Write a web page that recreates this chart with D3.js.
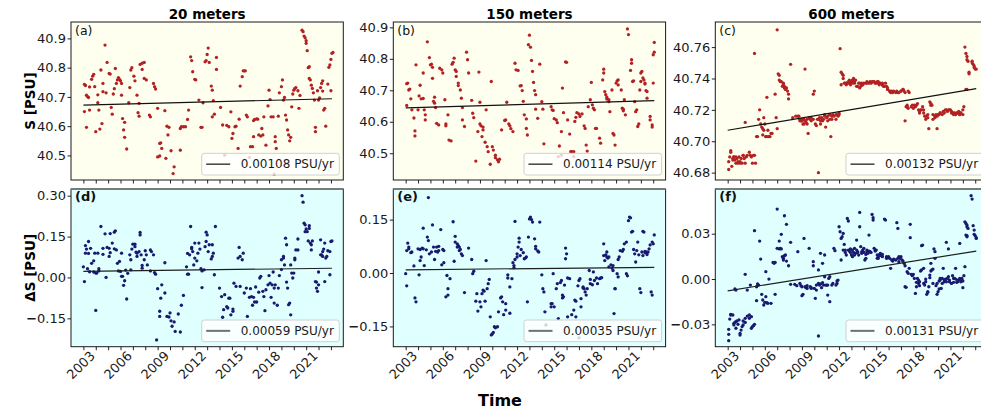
<!DOCTYPE html>
<html><head><meta charset="utf-8">
<script src="https://cdn.jsdelivr.net/npm/d3@7"></script>
<style>
body{margin:0;background:#fff}
svg{display:block}
text{font-family:"DejaVu Sans",sans-serif}
</style>
</head><body>
<svg id="c" width="981" height="414"></svg>
<script>
// x of each point: months since Jan 2002
const startYear = 2002;
const depthTitles = ["20 meters", "150 meters", "600 meters"];
const panelLetters = ["(a)", "(b)", "(c)", "(d)", "(e)", "(f)"];
const rowLabels = ["S [PSU]", "\u0394S [PSU]"];
const xLabel = "Time";
const xLimits = [2001.0, 2023.0];
const xTickYears = [2002,2003,2004,2005,2006,2007,2008,2009,2010,2011,2012,2013,2014,2015,2016,2017,2018,2019,2020,2021,2022];
const xLabelYears = [2003,2006,2009,2012,2015,2018,2021];

const sal20 = [[1,40.743],[2,40.739],[3,40.706],[4,40.701],[5,40.698],[1,40.650],[3,40.596],[6,40.734],[8,40.760],[9,40.771],[10,40.777],[6,40.655],[11,40.735],[12,40.581],[14,40.680],[14,40.707],[15,40.655],[16,40.590],[18,40.609],[17,40.792],[19,40.746],[19,40.718],[21,40.877],[22,40.714],[23,40.818],[25,40.780],[26,40.778],[27,40.664],[28,40.641],[29,40.710],[30,40.728],[31,40.797],[32,40.746],[33,40.758],[34,40.766],[35,40.760],[36,40.755],[37,40.746],[37,40.706],[38,40.626],[39,40.587],[40,40.562],[40,40.613],[42,40.522],[44,40.680],[45,40.732],[46,40.792],[47,40.800],[49,40.771],[50,40.755],[52,40.706],[53,40.646],[54,40.634],[54,40.678],[55,40.811],[57,40.815],[59,40.818],[57,40.794],[59,40.763],[61,40.758],[64,40.638],[65,40.632],[68,40.746],[69,40.735],[70,40.727],[72,40.661],[74,40.541],[75,40.543],[76,40.524],[72,40.495],[74,40.498],[79,40.653],[80,40.490],[81,40.600],[82,40.570],[83,40.596],[85,40.516],[88,40.461],[87,40.438],[94,40.518],[94,40.592],[95,40.598],[97,40.598],[99,40.598],[101,40.623],[102,40.655],[104,40.837],[105,40.824],[106,40.786],[108,40.760],[109,40.758],[112,40.689],[114,40.596],[115,40.596],[116,40.680],[118,40.820],[119,40.824],[120,40.845],[121,40.867],[122,40.818],[124,40.737],[125,40.723],[126,40.687],[125,40.632],[127,40.641],[129,40.794],[129,40.835],[133,40.664],[135,40.604],[137,40.501],[139,40.603],[141,40.598],[143,40.649],[144,40.558],[145,40.575],[147,40.598],[148,40.600],[150,40.524],[151,40.624],[152,40.737],[154,40.769],[155,40.789],[156,40.789],[157,40.789],[158,40.638],[159,40.632],[161,40.493],[162,40.530],[164,40.530],[165,40.564],[165,40.619],[166,40.623],[168,40.625],[169,40.624],[170,40.570],[172,40.566],[173,40.592],[174,40.570],[175,40.632],[177,40.535],[179,40.669],[180,40.723],[181,40.691],[182,40.632],[184,40.632],[185,40.436],[186,40.564],[186,40.547],[187,40.524],[189,40.634],[190,40.714],[192,40.735],[193,40.758],[194,40.689],[195,40.698],[196,40.638],[197,40.621],[198,40.587],[199,40.570],[200,40.550],[201,40.562],[202,40.666],[203,40.710],[204,40.723],[205,40.729],[206,40.732],[208,40.721],[209,40.661],[210,40.705],[212,40.928],[213,40.923],[214,40.908],[215,40.902],[216,40.892],[216,40.883],[217,40.858],[218,40.800],[219,40.803],[219,40.763],[220,40.758],[221,40.740],[222,40.729],[223,40.714],[224,40.689],[225,40.581],[225,40.596],[227,40.721],[228,40.689],[229,40.697],[230,40.732],[231,40.746],[232,40.755],[232,40.720],[233,40.655],[234,40.661],[235,40.600],[237,40.744],[238,40.801],[239,40.809],[240,40.828],[241,40.849],[242,40.852],[240,40.721]];

const sal150 = [[1,40.721],[2,40.723],[3,40.701],[4,40.704],[5,40.673],[1,40.652],[6,40.638],[8,40.612],[9,40.571],[9,40.555],[10,40.781],[12,40.638],[13,40.682],[14,40.716],[15,40.673],[17,40.755],[17,40.674],[18,40.638],[19,40.622],[19,40.606],[21,40.854],[23,40.804],[24,40.781],[25,40.783],[26,40.773],[26,40.738],[27,40.665],[28,40.678],[28,40.659],[29,40.645],[30,40.595],[32,40.590],[33,40.770],[35,40.765],[36,40.755],[38,40.670],[39,40.593],[39,40.587],[41,40.622],[42,40.542],[44,40.539],[45,40.783],[46,40.789],[47,40.802],[48,40.765],[49,40.760],[49,40.744],[51,40.723],[51,40.715],[53,40.701],[54,40.675],[55,40.645],[55,40.606],[57,40.585],[59,40.821],[60,40.797],[61,40.755],[64,40.668],[65,40.627],[66,40.613],[68,40.475],[70,40.569],[71,40.758],[72,40.662],[72,40.593],[73,40.587],[74,40.553],[75,40.583],[75,40.574],[77,40.535],[78,40.638],[79,40.521],[80,40.505],[82,40.465],[83,40.728],[84,40.521],[85,40.510],[87,40.494],[87,40.486],[89,40.479],[90,40.473],[91,40.481],[93,40.574],[96,40.604],[97,40.606],[98,40.662],[100,40.593],[101,40.587],[102,40.578],[104,40.569],[106,40.786],[107,40.765],[109,40.763],[111,40.714],[112,40.715],[113,40.699],[114,40.665],[115,40.622],[117,40.609],[117,40.579],[118,40.558],[119,40.845],[120,40.875],[121,40.837],[122,40.795],[123,40.760],[124,40.725],[125,40.699],[126,40.686],[126,40.640],[128,40.611],[130,40.783],[132,40.664],[133,40.640],[134,40.530],[141,40.648],[142,40.638],[143,40.636],[144,40.610],[146,40.606],[147,40.597],[148,40.489],[149,40.523],[151,40.569],[151,40.494],[152,40.707],[153,40.629],[155,40.790],[156,40.789],[157,40.606],[159,40.561],[160,40.505],[161,40.505],[163,40.505],[163,40.489],[164,40.601],[165,40.614],[166,40.629],[168,40.625],[169,40.617],[171,40.625],[173,40.587],[174,40.579],[175,40.526],[176,40.507],[177,40.648],[179,40.670],[180,40.725],[181,40.654],[182,40.643],[183,40.638],[184,40.579],[185,40.579],[188,40.548],[189,40.532],[191,40.733],[192,40.755],[192,40.767],[193,40.696],[194,40.686],[195,40.678],[195,40.672],[197,40.670],[197,40.664],[198,40.632],[200,40.701],[201,40.563],[202,40.558],[203,40.526],[204,40.723],[205,40.730],[206,40.733],[206,40.717],[209,40.701],[210,40.643],[211,40.640],[211,40.635],[213,40.622],[212,40.670],[215,40.895],[216,40.877],[218,40.763],[219,40.797],[219,40.786],[220,40.728],[221,40.730],[222,40.664],[223,40.632],[224,40.638],[225,40.585],[226,40.593],[227,40.701],[228,40.728],[228,40.755],[229,40.760],[230,40.739],[231,40.733],[232,40.720],[232,40.723],[233,40.699],[234,40.696],[234,40.675],[237,40.606],[237,40.617],[239,40.590],[239,40.583],[240,40.813],[241,40.821],[241,40.852],[240,40.723]];

const sal600 = [[1,40.687],[1,40.682],[2,40.690],[3,40.694],[3,40.693],[4,40.684],[5,40.689],[5,40.688],[6,40.690],[6,40.690],[7,40.688],[8,40.690],[8,40.686],[9,40.689],[10,40.686],[10,40.687],[11,40.690],[12,40.686],[12,40.687],[13,40.689],[14,40.686],[15,40.691],[15,40.691],[16,40.689],[17,40.712],[17,40.686],[18,40.690],[19,40.691],[21,40.693],[22,40.691],[23,40.690],[24,40.686],[25,40.691],[26,40.756],[26,40.691],[27,40.686],[28,40.703],[29,40.703],[30,40.714],[31,40.720],[32,40.711],[33,40.709],[34,40.708],[34,40.704],[35,40.707],[35,40.715],[36,40.711],[37,40.703],[37,40.703],[38,40.728],[39,40.703],[39,40.707],[40,40.703],[41,40.703],[42,40.705],[43,40.705],[46,40.730],[47,40.715],[48,40.708],[48,40.771],[49,40.743],[50,40.742],[50,40.739],[51,40.738],[52,40.738],[53,40.735],[54,40.736],[54,40.737],[55,40.734],[55,40.735],[56,40.733],[57,40.734],[58,40.732],[59,40.730],[59,40.727],[61,40.749],[63,40.715],[66,40.716],[68,40.716],[69,40.716],[70,40.714],[70,40.713],[71,40.713],[72,40.713],[72,40.714],[73,40.711],[74,40.714],[74,40.711],[75,40.713],[75,40.746],[76,40.712],[77,40.711],[77,40.714],[78,40.705],[79,40.715],[80,40.714],[81,40.713],[81,40.715],[83,40.714],[83,40.730],[84,40.732],[85,40.711],[86,40.710],[87,40.714],[88,40.680],[88,40.714],[89,40.715],[90,40.711],[90,40.713],[91,40.715],[92,40.714],[92,40.713],[93,40.714],[94,40.716],[94,40.717],[95,40.709],[96,40.715],[97,40.713],[97,40.716],[99,40.714],[99,40.717],[100,40.703],[101,40.714],[101,40.716],[102,40.717],[103,40.716],[105,40.717],[105,40.714],[106,40.717],[107,40.716],[108,40.718],[108,40.717],[109,40.759],[110,40.736],[110,40.744],[111,40.743],[112,40.742],[112,40.740],[113,40.737],[114,40.737],[115,40.736],[115,40.737],[116,40.737],[117,40.738],[117,40.737],[118,40.739],[119,40.736],[119,40.737],[120,40.738],[121,40.739],[121,40.737],[122,40.740],[123,40.738],[123,40.737],[124,40.739],[125,40.735],[126,40.735],[127,40.737],[128,40.737],[128,40.734],[129,40.735],[130,40.736],[130,40.737],[131,40.736],[132,40.737],[134,40.737],[135,40.737],[135,40.738],[137,40.737],[138,40.738],[139,40.737],[140,40.738],[141,40.738],[142,40.738],[143,40.737],[144,40.737],[145,40.738],[146,40.738],[146,40.737],[147,40.736],[148,40.737],[150,40.737],[150,40.736],[151,40.735],[152,40.735],[153,40.737],[154,40.735],[155,40.733],[155,40.734],[157,40.732],[157,40.732],[158,40.731],[159,40.732],[160,40.731],[161,40.732],[163,40.731],[164,40.732],[165,40.731],[166,40.731],[168,40.732],[168,40.732],[170,40.733],[170,40.733],[171,40.732],[172,40.731],[172,40.713],[173,40.722],[174,40.723],[174,40.722],[175,40.721],[175,40.732],[176,40.731],[178,40.722],[179,40.723],[180,40.721],[181,40.723],[182,40.722],[183,40.723],[184,40.724],[185,40.720],[186,40.719],[186,40.718],[187,40.720],[188,40.720],[189,40.722],[190,40.718],[190,40.720],[191,40.716],[192,40.714],[192,40.716],[194,40.717],[194,40.715],[195,40.708],[196,40.725],[197,40.724],[197,40.723],[198,40.723],[199,40.717],[199,40.714],[201,40.716],[201,40.715],[202,40.717],[203,40.716],[203,40.708],[204,40.717],[205,40.717],[206,40.718],[206,40.718],[208,40.717],[209,40.719],[210,40.718],[211,40.720],[212,40.720],[213,40.719],[214,40.720],[215,40.720],[216,40.720],[217,40.718],[217,40.719],[219,40.717],[219,40.718],[220,40.718],[221,40.717],[222,40.718],[223,40.718],[224,40.719],[225,40.717],[225,40.717],[226,40.718],[226,40.718],[228,40.717],[228,40.720],[229,40.722],[230,40.760],[231,40.756],[232,40.754],[232,40.752],[233,40.751],[234,40.743],[234,40.744],[231,40.733],[232,40.733],[237,40.751],[237,40.750],[238,40.749],[239,40.748],[239,40.747],[240,40.746],[241,40.746]];

const dS20 = [[0,0.039],[1,-0.015],[2,0.089],[2,0.117],[3,0.104],[4,0.032],[5,0.132],[5,0.088],[6,0.021],[7,0.107],[8,0.052],[10,0.061],[10,0.020],[11,0.089],[12,0.016],[12,-0.121],[13,0.016],[14,0.089],[15,0.032],[15,0.024],[17,0.187],[19,0.107],[19,0.085],[21,0.160],[22,0.000],[23,0.110],[25,0.077],[25,0.107],[26,0.161],[26,0.091],[28,0.126],[30,0.105],[30,0.166],[31,0.171],[32,0.101],[33,0.052],[34,0.024],[35,0.059],[36,0.022],[37,0.089],[37,0.004],[38,0.004],[39,-0.029],[40,-0.012],[41,0.027],[42,-0.079],[43,0.015],[45,0.083],[46,0.065],[46,0.028],[47,0.104],[48,0.122],[50,0.113],[50,0.122],[51,0.093],[52,0.089],[52,0.077],[54,0.095],[55,0.165],[55,0.156],[56,0.083],[57,0.034],[57,0.044],[59,0.065],[60,0.098],[61,0.083],[62,0.046],[65,0.024],[65,0.101],[66,0.095],[68,0.083],[69,0.018],[70,0.012],[72,-0.041],[74,-0.143],[74,-0.124],[75,-0.076],[76,-0.027],[79,0.054],[79,-0.057],[81,-0.143],[83,-0.145],[84,-0.130],[85,-0.159],[86,-0.179],[88,-0.163],[89,-0.198],[71,-0.229],[92,-0.134],[94,-0.200],[95,-0.102],[97,-0.066],[100,0.039],[101,0.012],[101,0.088],[102,0.012],[103,0.083],[104,0.187],[105,0.105],[105,0.110],[106,0.095],[107,0.046],[108,0.071],[108,0.126],[110,0.061],[111,0.089],[112,0.126],[113,0.104],[114,0.032],[115,0.024],[115,-0.037],[117,0.028],[118,0.113],[119,0.132],[119,0.166],[120,0.156],[121,0.095],[122,0.120],[124,0.068],[125,0.120],[125,0.077],[126,0.089],[127,0.010],[128,0.187],[132,-0.039],[134,-0.070],[135,-0.146],[136,-0.118],[137,-0.063],[139,-0.107],[140,-0.112],[141,-0.076],[142,-0.076],[143,-0.137],[145,-0.124],[145,-0.116],[146,-0.021],[148,-0.033],[150,0.071],[151,0.110],[152,-0.033],[152,0.077],[154,0.065],[155,0.089],[156,-0.057],[158,-0.039],[159,-0.143],[161,-0.073],[162,-0.041],[163,-0.070],[164,-0.102],[165,-0.073],[166,-0.090],[167,-0.035],[168,-0.090],[170,-0.054],[171,-0.002],[172,0.004],[174,-0.051],[175,-0.070],[176,-0.122],[177,-0.045],[179,-0.027],[180,0.007],[181,-0.021],[182,-0.073],[183,-0.027],[184,0.020],[185,-0.094],[185,-0.039],[186,-0.027],[188,-0.102],[189,-0.039],[190,0.007],[192,0.029],[192,0.065],[194,0.071],[194,0.077],[195,0.046],[196,0.144],[197,0.120],[197,-0.017],[198,-0.039],[199,-0.100],[200,-0.094],[201,-0.137],[201,0.046],[202,0.016],[203,-0.002],[204,0.016],[205,0.071],[205,0.065],[206,0.101],[208,0.101],[208,0.141],[212,0.300],[213,0.276],[214,0.199],[215,0.193],[215,0.168],[216,0.178],[217,0.168],[218,0.134],[219,0.190],[219,0.180],[220,0.126],[221,0.101],[221,0.120],[222,0.134],[225,-0.015],[226,-0.017],[226,-0.039],[227,-0.051],[228,-0.027],[228,0.020],[230,0.083],[230,0.138],[231,0.083],[232,0.077],[232,0.095],[233,0.104],[234,0.126],[234,-0.015],[235,0.071],[236,0.077],[237,0.098],[239,0.095],[240,0.132],[241,0.134],[239,0.010]];

const dS150 = [[0,-0.002],[1,-0.036],[1,0.063],[2,0.084],[3,0.073],[3,0.068],[5,0.057],[6,0.059],[8,0.020],[9,-0.070],[10,-0.081],[12,0.068],[13,-0.005],[14,0.035],[14,0.066],[15,0.045],[16,0.070],[17,0.126],[17,0.068],[18,0.021],[20,0.065],[21,0.101],[22,0.091],[22,0.212],[23,0.054],[25,0.059],[26,0.135],[27,0.073],[28,0.038],[29,0.061],[30,0.073],[31,0.059],[32,0.075],[32,0.063],[34,0.122],[35,0.023],[36,0.066],[37,0.029],[37,0.063],[39,-0.067],[40,-0.007],[41,-0.044],[41,-0.062],[43,-0.016],[46,0.144],[47,0.033],[48,0.087],[48,0.103],[50,0.082],[50,0.073],[51,0.077],[52,0.063],[52,0.073],[53,0.066],[54,0.054],[55,0.049],[57,-0.055],[61,0.070],[64,0.038],[65,-0.002],[66,0.005],[68,-0.079],[69,-0.058],[70,-0.107],[72,-0.081],[73,-0.095],[74,-0.058],[75,-0.048],[76,-0.051],[77,-0.079],[78,0.035],[79,-0.044],[80,-0.030],[81,-0.018],[82,-0.123],[83,-0.174],[84,-0.171],[85,-0.167],[86,-0.151],[87,-0.154],[89,-0.151],[90,-0.109],[92,-0.070],[93,-0.067],[94,-0.081],[95,-0.117],[97,-0.086],[97,-0.104],[99,-0.005],[99,-0.014],[101,-0.039],[101,-0.113],[103,-0.016],[104,0.029],[105,0.021],[105,0.015],[106,0.038],[106,0.145],[108,0.045],[108,0.054],[109,0.073],[110,0.087],[110,0.098],[111,0.049],[112,0.066],[114,0.057],[115,0.040],[116,0.042],[117,0.045],[118,-0.081],[119,0.101],[120,0.152],[121,0.157],[122,0.150],[123,0.143],[125,0.096],[126,0.075],[126,0.068],[128,0.062],[129,0.059],[130,0.143],[132,-0.005],[133,-0.044],[134,-0.053],[135,-0.109],[136,-0.146],[141,-0.086],[141,-0.095],[142,-0.086],[143,-0.002],[144,-0.095],[146,-0.044],[147,-0.030],[148,-0.128],[150,-0.027],[151,-0.021],[152,-0.062],[152,-0.070],[153,-0.067],[154,-0.034],[155,0.070],[155,0.040],[156,0.054],[157,-0.123],[157,-0.014],[159,-0.016],[161,-0.117],[163,-0.104],[164,-0.076],[165,-0.123],[165,-0.079],[167,-0.036],[168,-0.021],[168,-0.182],[169,-0.016],[170,-0.095],[170,-0.072],[172,-0.042],[172,-0.039],[173,-0.044],[174,-0.053],[175,-0.062],[176,-0.044],[178,0.007],[179,-0.030],[179,-0.018],[181,-0.033],[182,0.003],[183,-0.021],[185,-0.014],[186,-0.030],[188,-0.016],[189,-0.014],[190,-0.013],[192,0.082],[192,0.049],[193,0.035],[194,0.051],[195,0.059],[195,0.045],[196,0.042],[197,0.045],[197,0.017],[199,0.023],[200,0.014],[201,0.007],[201,0.021],[202,-0.114],[203,-0.044],[203,-0.044],[205,-0.002],[206,-0.011],[206,0.038],[207,0.045],[208,0.063],[210,0.061],[211,0.066],[212,0.082],[214,0.087],[214,-0.002],[215,-0.008],[216,0.147],[217,0.157],[218,0.155],[219,0.115],[220,0.117],[221,0.066],[222,0.054],[223,0.031],[224,0.063],[225,0.087],[226,0.051],[227,-0.044],[228,-0.055],[229,0.059],[230,0.049],[230,0.117],[231,0.115],[232,0.061],[232,0.057],[233,0.059],[234,0.052],[235,0.059],[236,0.068],[237,0.079],[238,-0.053],[239,-0.062],[239,0.087],[240,0.082],[241,0.107]];

const dS600 = [[1,-0.0366],[1,-0.0408],[1,-0.0333],[2,-0.0265],[3,-0.0238],[3,-0.0234],[5,-0.0238],[6,-0.0293],[6,-0.0304],[7,-0.0287],[7,-0.0066],[8,-0.0326],[8,-0.0073],[8,-0.0282],[9,-0.0278],[10,-0.0300],[11,-0.0271],[12,-0.0371],[12,-0.0360],[13,-0.0338],[14,-0.0315],[15,-0.0278],[15,-0.0304],[17,-0.0260],[17,0.0031],[17,-0.0287],[19,-0.0245],[19,-0.0073],[21,-0.0238],[21,-0.0260],[22,-0.0040],[23,-0.0249],[23,-0.0326],[24,-0.0315],[25,-0.0309],[26,0.0320],[26,-0.0300],[28,-0.0143],[28,-0.0051],[29,-0.0033],[30,-0.0040],[31,0.0251],[32,0.0132],[33,-0.0101],[34,-0.0139],[35,-0.0172],[36,-0.0154],[37,-0.0117],[37,0.0049],[38,-0.0157],[39,-0.0161],[40,0.0000],[42,-0.0161],[44,0.0110],[45,0.0104],[46,0.0110],[46,-0.0101],[48,0.0463],[48,0.0203],[50,0.0251],[50,0.0199],[51,0.0203],[52,0.0296],[52,0.0199],[53,0.0148],[54,0.0137],[54,0.0126],[55,0.0419],[55,0.0154],[56,0.0159],[57,0.0362],[57,0.0119],[59,0.0088],[61,-0.0035],[61,0.0243],[65,-0.0035],[67,-0.0044],[68,0.0181],[70,-0.0029],[71,-0.0044],[72,-0.0051],[72,-0.0110],[73,-0.0101],[74,0.0269],[75,-0.0051],[76,-0.0057],[77,-0.0062],[77,-0.0044],[79,0.0203],[80,-0.0051],[81,-0.0062],[81,-0.0057],[83,0.0115],[83,0.0088],[84,-0.0062],[85,-0.0128],[86,-0.0040],[86,-0.0073],[88,-0.0377],[88,0.0060],[88,-0.0029],[89,-0.0040],[90,0.0170],[90,-0.0033],[91,-0.0057],[92,0.0104],[92,-0.0024],[93,-0.0040],[94,0.0015],[94,0.0159],[95,-0.0040],[96,-0.0040],[97,-0.0106],[97,-0.0040],[98,0.0004],[99,0.0015],[99,-0.0150],[101,-0.0040],[102,-0.0029],[103,0.0203],[104,0.0188],[105,-0.0040],[106,-0.0029],[106,-0.0013],[107,-0.0007],[108,0.0346],[109,0.0313],[110,0.0126],[110,0.0269],[111,0.0280],[112,0.0302],[112,0.0192],[113,0.0229],[114,0.0176],[114,0.0192],[115,0.0159],[116,0.0401],[117,0.0384],[117,0.0192],[118,0.0185],[119,0.0176],[119,0.0199],[120,0.0159],[121,0.0192],[121,0.0148],[122,0.0176],[123,0.0159],[123,0.0203],[124,0.0170],[125,0.0192],[125,0.0258],[126,0.0181],[126,0.0176],[127,0.0159],[128,0.0441],[128,0.0346],[129,0.0214],[130,0.0181],[130,0.0170],[131,0.0192],[132,0.0203],[132,0.0176],[133,0.0126],[134,0.0137],[134,0.0163],[135,0.0192],[135,0.0181],[136,0.0170],[137,0.0291],[137,0.0185],[138,0.0181],[139,0.0176],[140,0.0428],[141,0.0406],[141,0.0390],[142,0.0203],[143,0.0192],[143,0.0185],[144,0.0192],[145,0.0137],[145,0.0159],[146,0.0148],[146,0.0137],[147,0.0159],[148,0.0170],[148,0.0163],[149,0.0154],[150,0.0148],[150,0.0163],[152,0.0397],[153,0.0390],[154,0.0137],[154,0.0148],[155,0.0141],[156,0.0148],[157,0.0137],[158,0.0071],[159,0.0126],[160,0.0119],[161,0.0132],[163,0.0126],[164,0.0373],[165,0.0335],[165,0.0137],[166,0.0115],[166,0.0148],[167,0.0137],[168,0.0148],[169,0.0126],[170,0.0119],[171,0.0104],[172,0.0088],[172,-0.0051],[173,-0.0055],[174,0.0049],[175,0.0038],[176,0.0071],[177,0.0362],[177,0.0274],[178,0.0031],[179,0.0022],[180,0.0031],[181,0.0004],[182,-0.0095],[183,-0.0051],[183,-0.0022],[184,0.0004],[185,-0.0007],[185,-0.0029],[186,-0.0044],[186,-0.0018],[187,0.0053],[188,0.0060],[188,0.0221],[189,0.0225],[190,0.0071],[190,-0.0029],[191,-0.0040],[192,-0.0018],[192,0.0000],[193,-0.0101],[194,-0.0084],[194,-0.0088],[195,-0.0051],[196,0.0009],[196,0.0026],[197,0.0053],[197,0.0104],[198,0.0060],[199,0.0066],[199,-0.0029],[200,0.0199],[201,0.0181],[201,0.0137],[202,-0.0044],[203,-0.0029],[203,-0.0101],[204,-0.0084],[205,-0.0066],[205,-0.0013],[206,-0.0007],[206,0.0004],[207,-0.0062],[208,-0.0029],[208,0.0004],[209,0.0071],[210,-0.0007],[210,-0.0018],[211,0.0000],[212,-0.0018],[212,0.0243],[213,0.0004],[214,0.0199],[214,0.0015],[215,-0.0018],[215,-0.0007],[217,-0.0029],[218,0.0022],[219,0.0004],[219,-0.0022],[220,0.0004],[221,0.0000],[221,0.0071],[222,-0.0022],[223,-0.0007],[223,-0.0018],[224,-0.0007],[225,0.0236],[225,0.0004],[226,-0.0018],[227,-0.0007],[227,0.0004],[228,-0.0013],[228,-0.0057],[229,0.0022],[230,0.0082],[230,0.0379],[231,0.0368],[232,0.0357],[232,0.0346],[233,0.0335],[231,0.0291],[232,0.0287],[232,0.0280],[236,0.0552],[237,0.0529],[238,0.0353],[239,0.0324],[239,0.0296],[240,0.0287],[241,0.0274],[241,0.0269]];

// linear trends: value at Jan 2002 and slope (PSU/yr), drawn over months 0..241
const trendStart = [40.672, 40.644, 40.707, 0.022, 0.009, -0.0078];
const trendSlope = [0.00108, 0.00114, 0.00132, 0.00059, 0.00035, 0.00131];
const trendMonths = [0, 241];

// y-axis limits and ticks per panel
const yLimits = [[40.416, 40.956], [40.415, 40.917], [40.6753, 40.776], [-0.254, 0.3245], [-0.207, 0.236], [-0.0448, 0.0596]];
const yTicks = [[40.5,40.6,40.7,40.8,40.9], [40.5,40.6,40.7,40.8,40.9], [40.68,40.70,40.72,40.74,40.76], [-0.15,0,0.15,0.30], [-0.15,0,0.15], [-0.03,0,0.03]];
const yTickFmt = [".1f", ".1f", ".2f", ".2f", ".2f", ".2f"];

const series = [sal20, sal150, sal600, dS20, dS150, dS600];

// ---------- drawing ----------
const svg = d3.select("#c");
const colLeft = [71, 393.3, 715.3], panelW = 272.3;
const rowTop = [22, 189], panelH = [158, 157.7];
const bg = ["#fffff0", "#e0ffff"];
const dotColor = ["#b22222", "#191970"];
const FONT = "'DejaVu Sans', sans-serif";
const TICKFS = 13;

series.forEach((data, i) => {
  const row = i < 3 ? 0 : 1, col = i % 3;
  const L = colLeft[col], T = rowTop[row], W = panelW, H = panelH[row];
  const x = d3.scaleLinear().domain(xLimits).range([L, L + W]);
  const y = d3.scaleLinear().domain(yLimits[i]).range([T + H, T]);
  const g = svg.append("g");

  g.append("rect").attr("x", L).attr("y", T).attr("width", W).attr("height", H).attr("fill", bg[row]);

  g.append("g").selectAll("circle").data(data).join("circle")
    .attr("cx", d => x(startYear + d[0] / 12))
    .attr("cy", d => y(d[1]))
    .attr("r", 1.65)
    .attr("fill", dotColor[row]);

  const tline = trendMonths.map(m => [startYear + m / 12, trendStart[i] + trendSlope[i] * m / 12]);
  g.append("path").attr("d", d3.line().x(d => x(d[0])).y(d => y(d[1]))(tline))
    .attr("stroke", row === 0 ? "#111" : "#1e1e1e").attr("stroke-width", 1.2).attr("fill", "none");

  // legend
  const lw = 137.6, lh = 21.7;
  const lx = L + W - 4 - lw, ly = T + H - 5 - lh;
  g.append("rect").attr("x", lx).attr("y", ly).attr("width", lw).attr("height", lh)
    .attr("rx", 2.5).attr("fill", "#fff").attr("fill-opacity", 0.8)
    .attr("stroke", "#d0d0d0").attr("stroke-width", 1);
  g.append("line").attr("x1", lx + 4.5).attr("x2", lx + 28.5).attr("y1", ly + lh / 2).attr("y2", ly + lh / 2)
    .attr("stroke", row === 0 ? "#111" : "#707070").attr("stroke-width", row === 0 ? 1.2 : 2);
  g.append("text").attr("x", lx + 39).attr("y", ly + lh / 2 + 4.3)
    .attr("font-size", 12).attr("fill", "#1a1a1a").style("font-family", FONT)
    .text(d3.format(".5f")(trendSlope[i]) + " PSU/yr");

  // y axis
  const ya = g.append("g").attr("transform", `translate(${L},0)`)
    .call(d3.axisLeft(y).tickValues(yTicks[i]).tickSize(3.5).tickPadding(1.5).tickFormat(d3.format(yTickFmt[i])));
  ya.select(".domain").remove();
  ya.selectAll(".tick line").attr("stroke", "#222");
  ya.selectAll(".tick text").attr("font-size", TICKFS).attr("fill", "#1a1a1a").style("font-family", FONT)
    .each(function(d) {
      const t = d3.select(this);
      const s = d3.format(yTickFmt[i])(Math.abs(d));
      t.text("");
      if (d < 0) t.append("tspan").attr("font-weight", "bold").text("\u2212");
      t.append("tspan").text(s);
    });

  // x axis
  const xa = g.append("g").attr("transform", `translate(0,${T + H})`)
    .call(d3.axisBottom(x).tickValues(xTickYears).tickSize(3.5).tickFormat(""));
  xa.select(".domain").remove();
  xa.selectAll(".tick line").attr("stroke", "#222");
  if (row === 1) {
    g.append("g").selectAll("text").data(xLabelYears).join("text")
      .attr("transform", d => `translate(${x(d)},${T + H + 10})`+" rotate(-45)")
      .attr("text-anchor", "end").attr("font-size", TICKFS).attr("fill", "#1a1a1a").style("font-family", FONT)
      .text(d => d);
  }

  // frame
  g.append("rect").attr("x", L).attr("y", T).attr("width", W).attr("height", H)
    .attr("fill", "none").attr("stroke", "#1a1a1a").attr("stroke-width", 1);
  if (row === 1) {
    g.append("line").attr("x1", L).attr("x2", L + W).attr("y1", T).attr("y2", T)
      .attr("stroke", "#7a7a7a").attr("stroke-width", 2.2);
  }

  // panel letter
  g.append("text").attr("x", L + 4).attr("y", T + (row === 0 ? 12.5 : 12))
    .attr("font-size", row === 0 ? 12.5 : 13).attr("font-weight", row === 0 ? "normal" : "bold")
    .attr("fill", "#111").style("font-family", FONT).text(panelLetters[i]);

  if (row === 0) {
    svg.append("text").attr("x", L + W / 2).attr("y", 18.5).attr("text-anchor", "middle")
      .attr("font-size", 13.5).attr("font-weight", "bold").style("font-family", FONT)
      .text(depthTitles[col]);
  }
});

// row labels
rowLabels.forEach((lab, r) => {
  const cy = rowTop[r] + panelH[r] / 2;
  svg.append("text").attr("transform", `translate(35,${cy}) rotate(-90)`)
    .attr("text-anchor", "middle").attr("font-size", 13.5).attr("font-weight", "bold")
    .style("font-family", FONT).text(lab);
});

svg.append("text").attr("x", 500).attr("y", 406).attr("text-anchor", "middle")
  .attr("font-size", 16).attr("font-weight", "bold").style("font-family", FONT).text(xLabel);
</script>
</body></html>
